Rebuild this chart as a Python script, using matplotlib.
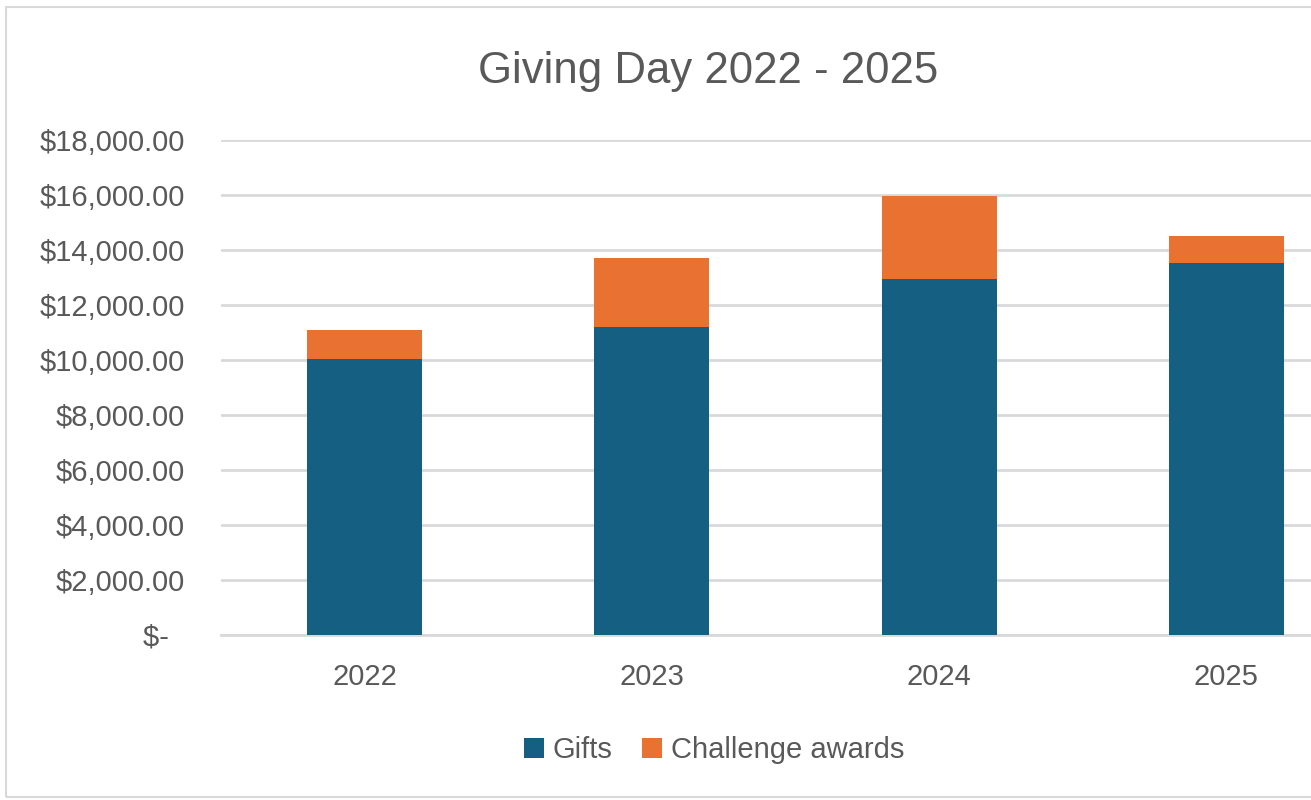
import matplotlib
matplotlib.use("Agg")
import matplotlib.pyplot as plt
from matplotlib.patches import Rectangle
from matplotlib.ticker import FuncFormatter

years = ["2022", "2023", "2024", "2025"]
gifts = [10050, 11200, 12950, 13525]
challenge = [1050, 2500, 3000, 1000]
series_names = ["Gifts", "Challenge awards"]

BLUE = "#156082"
ORANGE = "#E97132"
TEXT = "#595959"
GRID = "#D9D9D9"

plt.rcParams['font.family'] = ['Liberation Sans', 'DejaVu Sans']

W, H = 1311, 800
fig = plt.figure(figsize=(W / 100, H / 100), dpi=100)
fig.patch.set_facecolor("white")

# chart border
fig.patches.append(Rectangle((6 / W, 1 - 797 / H), 1.2, (797 - 7) / H,
                             transform=fig.transFigure, fill=False,
                             edgecolor=GRID, lw=1.5))

left = 221 / W
right = 1370 / W
bottom = 1 - 635 / H
top = 1 - 140 / H
ax = fig.add_axes([left, bottom, right - left, top - bottom])

x = range(len(years))
ax.bar(x, gifts, width=0.4, color=BLUE, label=series_names[0], zorder=3)
ax.bar(x, challenge, width=0.4, bottom=gifts, color=ORANGE,
       label=series_names[1], zorder=3)

ax.set_xlim(-0.5, len(years) - 0.5)
ax.set_ylim(0, 18000)
ax.set_yticks(range(0, 18001, 2000))


def fmt(v, pos):
    if v == 0:
        return "$-  "
    return "${:,.2f}".format(v)


ax.yaxis.set_major_formatter(FuncFormatter(fmt))
ax.set_xticks(list(x))
ax.set_xticklabels(years)

ax.grid(axis="y", color=GRID, lw=2, zorder=0)
ax.set_axisbelow(True)
for s in ["top", "right", "left"]:
    ax.spines[s].set_visible(False)
ax.spines["bottom"].set_color(GRID)
ax.spines["bottom"].set_linewidth(2)
ax.tick_params(axis="y", length=0, pad=26, labelsize=21, labelcolor=TEXT)
ax.tick_params(axis="x", length=0, pad=20, labelsize=21, labelcolor=TEXT)

fig.text(708 / W, 1 - 71 / H, "Giving Day 2022 - 2025", ha="center",
         va="center", fontsize=31.5, color=TEXT)

handles, labels = ax.get_legend_handles_labels()
fig.legend(handles, labels, loc="center", bbox_to_anchor=(714 / W, 1 - 750 / H),
           ncol=2, frameon=False, fontsize=21, labelcolor=TEXT,
           handlelength=0.7, handleheight=0.7, handletextpad=0.3,
           columnspacing=1.0)

fig.savefig("out.png", dpi=100)
